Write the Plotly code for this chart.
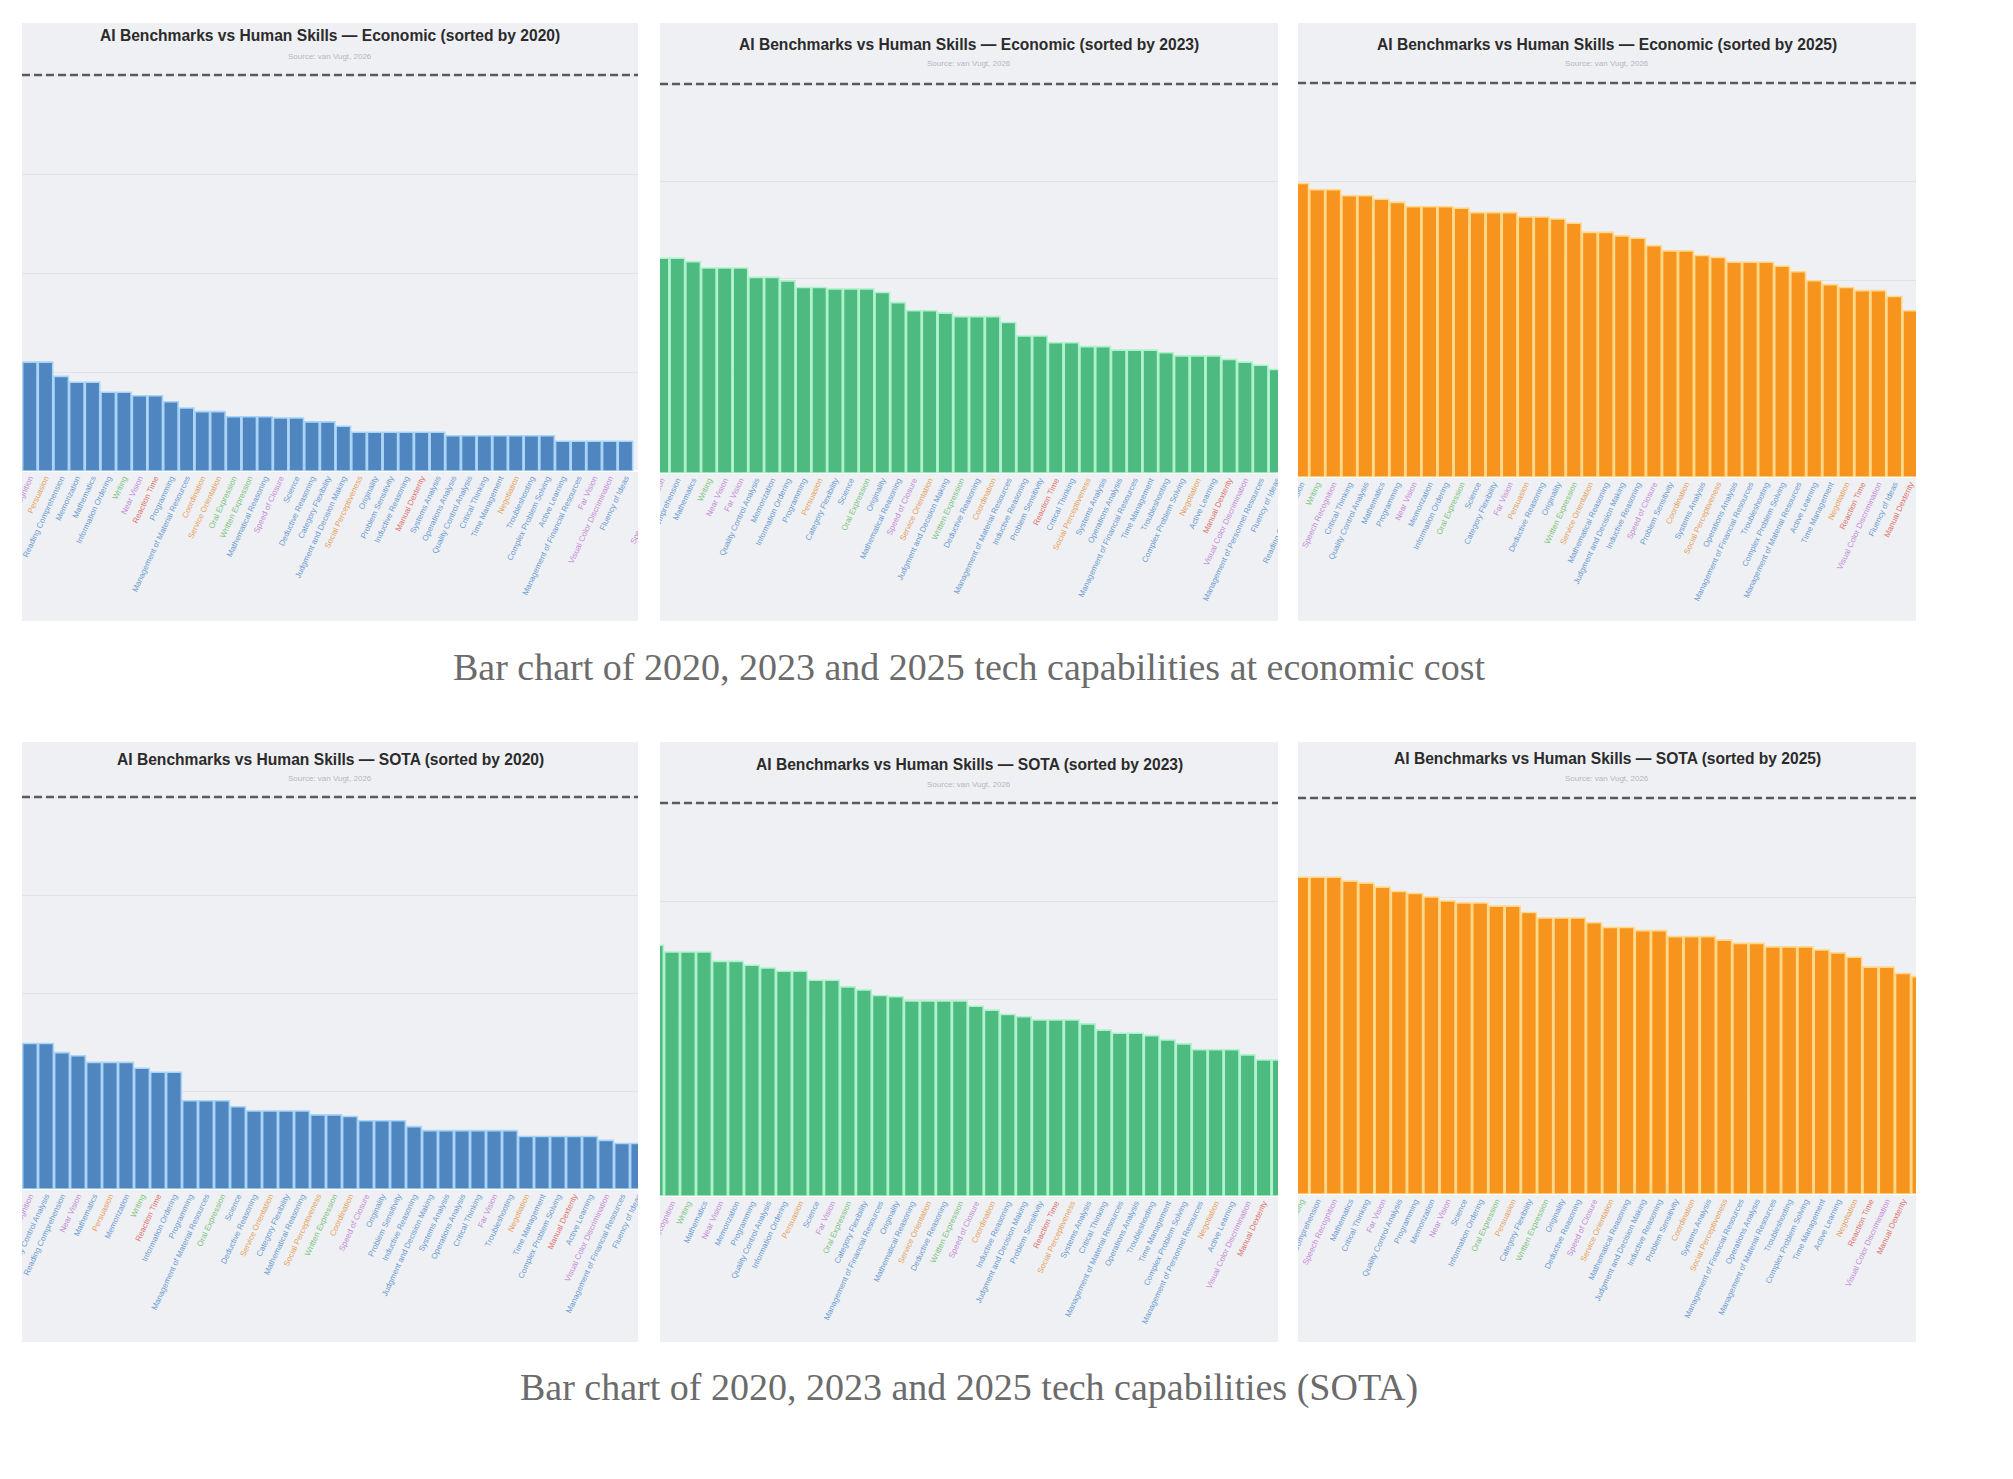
"""
six cropped bar charts (ai benchmark vs human skill, economic + sota rows)
laid out like the blog screenshot, with the two captions underneath.
"""
import plotly.graph_objects as go

W, H = 2013, 1479
PANEL_BG = "#eff0f4"

LABEL_COLORS = {
    "cog": "#6a9bd1",
    "soc": "#e6a15a",
    "per": "#c48bd4",
    "com": "#7cc47c",
    "phy": "#e0736b",
}

SKILL_GROUP = {
    "Critical Thinking": "cog", "Complex Problem Solving": "cog",
    "Judgment and Decision Making": "cog", "Deductive Reasoning": "cog",
    "Inductive Reasoning": "cog", "Information Ordering": "cog",
    "Category Flexibility": "cog", "Mathematical Reasoning": "cog",
    "Memorization": "cog", "Problem Sensitivity": "cog", "Originality": "cog",
    "Fluency of Ideas": "cog", "Reading Comprehension": "cog",
    "Systems Analysis": "cog", "Operations Analysis": "cog",
    "Quality Control Analysis": "cog", "Troubleshooting": "cog",
    "Programming": "cog", "Mathematics": "cog", "Science": "cog",
    "Active Learning": "cog", "Management of Financial Resources": "cog",
    "Management of Material Resources": "cog",
    "Management of Personnel Resources": "cog", "Time Management": "cog",
    "Social Perceptiveness": "soc", "Persuasion": "soc", "Negotiation": "soc",
    "Coordination": "soc", "Service Orientation": "soc",
    "Speed of Closure": "per", "Near Vision": "per", "Far Vision": "per",
    "Visual Color Discrimination": "per", "Speech Recognition": "per",
    "Writing": "com", "Oral Expression": "com", "Written Expression": "com",
    "Manual Dexterity": "phy", "Reaction Time": "phy",
}

# --- economic cost row -------------------------------------------------------
econ_2020_labels = [
    "Speech Recognition", "Persuasion", "Reading Comprehension", "Memorization",
    "Mathematics", "Information Ordering", "Writing", "Near Vision", "Reaction Time",
    "Programming", "Management of Material Resources", "Coordination",
    "Service Orientation", "Oral Expression", "Written Expression",
    "Mathematical Reasoning", "Speed of Closure", "Science", "Deductive Reasoning",
    "Category Flexibility", "Judgment and Decision Making", "Social Perceptiveness",
    "Originality", "Problem Sensitivity", "Inductive Reasoning", "Manual Dexterity",
    "Systems Analysis", "Operations Analysis", "Quality Control Analysis",
    "Critical Thinking", "Time Management", "Negotiation", "Troubleshooting",
    "Complex Problem Solving", "Active Learning", "Management of Financial Resources",
    "Far Vision", "Visual Color Discrimination", "Fluency of Ideas",
]
econ_2020 = [
    27.5, 27.5, 23.9, 22.4, 22.4, 19.9, 19.9, 19.0, 19.0, 17.5, 15.9, 15.0, 15.0,
    13.7, 13.7, 13.7, 13.4, 13.4, 12.4, 12.4, 11.3, 9.8, 9.8, 9.8, 9.8, 9.8, 9.8,
    8.9, 8.9, 8.9, 8.9, 8.9, 8.9, 8.9, 7.5, 7.5, 7.5, 7.5, 7.5,
]

econ_2023_labels = [
    "Speech Recognition", "Reading Comprehension", "Mathematics", "Writing",
    "Near Vision", "Far Vision", "Quality Control Analysis", "Memorization",
    "Information Ordering", "Programming", "Persuasion", "Category Flexibility",
    "Science", "Oral Expression", "Originality", "Mathematical Reasoning",
    "Speed of Closure", "Service Orientation", "Judgment and Decision Making",
    "Written Expression", "Deductive Reasoning", "Coordination",
    "Management of Material Resources", "Inductive Reasoning", "Problem Sensitivity",
    "Reaction Time", "Critical Thinking", "Social Perceptiveness", "Systems Analysis",
    "Operations Analysis", "Management of Financial Resources", "Time Management",
    "Troubleshooting", "Complex Problem Solving", "Negotiation", "Active Learning",
    "Manual Dexterity", "Visual Color Discrimination",
    "Management of Personnel Resources", "Fluency of Ideas",
]
econ_2023 = [
    55.2, 55.2, 54.3, 52.7, 52.7, 52.7, 50.3, 50.3, 49.4, 47.7, 47.7, 47.3, 47.3,
    47.3, 46.4, 43.8, 41.7, 41.7, 41.1, 40.2, 40.2, 40.2, 38.7, 35.2, 35.2, 33.5,
    33.5, 32.5, 32.5, 31.6, 31.6, 31.6, 30.9, 30.1, 30.1, 30.1, 29.2, 28.5, 27.7, 26.6,
]

econ_2025_labels = [
    "Reading Comprehension", "Writing", "Speech Recognition", "Critical Thinking",
    "Quality Control Analysis", "Mathematics", "Programming", "Near Vision",
    "Memorization", "Information Ordering", "Oral Expression", "Science",
    "Category Flexibility", "Far Vision", "Persuasion", "Deductive Reasoning",
    "Originality", "Written Expression", "Service Orientation",
    "Mathematical Reasoning", "Judgment and Decision Making", "Inductive Reasoning",
    "Speed of Closure", "Problem Sensitivity", "Coordination", "Systems Analysis",
    "Social Perceptiveness", "Operations Analysis", "Management of Financial Resources",
    "Troubleshooting", "Complex Problem Solving", "Management of Material Resources",
    "Active Learning", "Time Management", "Negotiation", "Reaction Time",
    "Visual Color Discrimination", "Fluency of Ideas", "Manual Dexterity",
]
econ_2025 = [
    74.5, 72.9, 72.9, 71.4, 71.4, 70.5, 69.7, 68.6, 68.6, 68.6, 68.2, 67.1, 67.1,
    67.1, 66.0, 66.0, 65.5, 64.4, 62.1, 62.1, 61.2, 60.6, 58.7, 57.4, 57.4, 56.2,
    55.7, 54.5, 54.5, 54.5, 53.5, 52.1, 49.8, 48.8, 48.1, 47.3, 47.3, 45.8, 42.2,
]

# --- SOTA row ----------------------------------------------------------------
sota_2020_labels = [
    "Speech Recognition", "Quality Control Analysis", "Reading Comprehension",
    "Near Vision", "Mathematics", "Persuasion", "Memorization", "Writing",
    "Reaction Time", "Information Ordering", "Programming",
    "Management of Material Resources", "Oral Expression", "Science",
    "Deductive Reasoning", "Service Orientation", "Category Flexibility",
    "Mathematical Reasoning", "Social Perceptiveness", "Written Expression",
    "Coordination", "Speed of Closure", "Originality", "Problem Sensitivity",
    "Inductive Reasoning", "Judgment and Decision Making", "Systems Analysis",
    "Operations Analysis", "Critical Thinking", "Far Vision", "Troubleshooting",
    "Negotiation", "Time Management", "Complex Problem Solving", "Manual Dexterity",
    "Active Learning", "Visual Color Discrimination",
    "Management of Financial Resources", "Fluency of Ideas",
]
sota_2020 = [
    37.1, 37.1, 34.8, 34.0, 32.3, 32.3, 32.3, 30.8, 29.8, 29.8, 22.5, 22.5, 22.5,
    21.0, 19.9, 19.9, 19.9, 19.9, 18.9, 18.9, 18.5, 17.4, 17.4, 17.4, 15.9, 14.9,
    14.9, 14.9, 14.9, 14.9, 14.9, 13.4, 13.4, 13.4, 13.4, 13.4, 12.4, 11.6, 11.6,
]

sota_2023_labels = [
    "Reading Comprehension", "Speech Recognition", "Writing", "Mathematics",
    "Near Vision", "Memorization", "Programming", "Quality Control Analysis",
    "Information Ordering", "Persuasion", "Science", "Far Vision", "Oral Expression",
    "Category Flexibility", "Management of Financial Resources", "Originality",
    "Mathematical Reasoning", "Service Orientation", "Deductive Reasoning",
    "Written Expression", "Speed of Closure", "Coordination", "Inductive Reasoning",
    "Judgment and Decision Making", "Problem Sensitivity", "Reaction Time",
    "Social Perceptiveness", "Systems Analysis", "Critical Thinking",
    "Management of Material Resources", "Operations Analysis", "Troubleshooting",
    "Time Management", "Complex Problem Solving", "Management of Personnel Resources",
    "Negotiation", "Active Learning", "Visual Color Discrimination",
    "Manual Dexterity", "Fluency of Ideas",
]
sota_2023 = [
    63.8, 62.1, 62.1, 62.1, 59.7, 59.7, 58.7, 58.0, 57.2, 57.2, 54.9, 54.9, 53.2,
    52.4, 51.0, 50.7, 49.6, 49.6, 49.6, 49.6, 48.3, 47.3, 46.2, 45.6, 44.8, 44.8,
    44.8, 43.8, 42.2, 41.4, 41.4, 40.8, 39.7, 38.7, 37.2, 37.2, 37.2, 35.9, 34.6, 34.6,
]

sota_2025_labels = [
    "Writing", "Reading Comprehension", "Speech Recognition", "Mathematics",
    "Critical Thinking", "Far Vision", "Quality Control Analysis", "Programming",
    "Memorization", "Near Vision", "Science", "Information Ordering",
    "Oral Expression", "Persuasion", "Category Flexibility", "Written Expression",
    "Originality", "Deductive Reasoning", "Speed of Closure", "Service Orientation",
    "Mathematical Reasoning", "Judgment and Decision Making", "Inductive Reasoning",
    "Problem Sensitivity", "Coordination", "Systems Analysis", "Social Perceptiveness",
    "Management of Financial Resources", "Operations Analysis",
    "Management of Material Resources", "Troubleshooting", "Complex Problem Solving",
    "Time Management", "Active Learning", "Negotiation", "Reaction Time",
    "Visual Color Discrimination", "Manual Dexterity", "Fluency of Ideas",
]
sota_2025 = [
    80.0, 80.0, 80.0, 79.0, 78.5, 77.5, 76.4, 75.9, 75.0, 74.0, 73.5, 73.5, 72.7,
    72.7, 71.1, 69.7, 69.7, 69.7, 68.5, 67.3, 67.3, 66.5, 66.5, 65.0, 65.0, 65.0,
    64.1, 63.3, 63.3, 62.4, 62.4, 62.4, 61.6, 60.9, 59.8, 57.3, 57.3, 55.7, 54.9,
]

HUMAN_LEVEL = 100
SUBTITLE = "Source: van Vugt, 2026"
CAPTIONS = [
    "Bar chart of 2020, 2023 and 2025 tech capabilities at economic cost",
    "Bar chart of 2020, 2023 and 2025 tech capabilities (SOTA)",
]

BLUE = ("#4f86bf", "#a9d4f7")
GREEN = ("#4dba7f", "#aef2cc")
ORANGE = ("#f7941e", "#ffd88a")

# screenshot geometry, in page pixels: panel box, baseline (y=0) and dashed line (y=100)
COLS = [(22, 638), (660, 1278), (1298, 1916)]
ROWS = [(23, 621), (742, 1342)]

panels = [
    dict(title="AI Benchmarks vs Human Skills — Economic (sorted by 2020)",
         labels=econ_2020_labels, values=econ_2020, colors=BLUE,
         col=0, row=0, base=471, dash=75, title_y=36, sub_y=57, xr=(-0.5, 38.8)),
    dict(title="AI Benchmarks vs Human Skills — Economic (sorted by 2023)",
         labels=econ_2023_labels, values=econ_2023, colors=GREEN,
         col=1, row=0, base=473, dash=84, title_y=44, sub_y=63, xr=(-0.1, 39.1)),
    dict(title="AI Benchmarks vs Human Skills — Economic (sorted by 2025)",
         labels=econ_2025_labels, values=econ_2025, colors=ORANGE,
         col=2, row=0, base=477, dash=83, title_y=44, sub_y=63, xr=(-0.2, 38.35)),
    dict(title="AI Benchmarks vs Human Skills — SOTA (sorted by 2020)",
         labels=sota_2020_labels, values=sota_2020, colors=BLUE,
         col=0, row=1, base=1189, dash=797, title_y=759, sub_y=779, xr=(-0.5, 38.0)),
    dict(title="AI Benchmarks vs Human Skills — SOTA (sorted by 2023)",
         labels=sota_2023_labels, values=sota_2023, colors=GREEN,
         col=1, row=1, base=1196, dash=803, title_y=764, sub_y=784, xr=(0.25, 38.9)),
    dict(title="AI Benchmarks vs Human Skills — SOTA (sorted by 2025)",
         labels=sota_2025_labels, values=sota_2025, colors=ORANGE,
         col=2, row=1, base=1194, dash=798, title_y=758, sub_y=778, xr=(-0.2, 37.8)),
]


def px_x(v):
    return v / W


def px_y(v):
    return 1 - v / H


fig = go.Figure()
shapes, annotations = [], []
YMAX = 103

for k, p in enumerate(panels, start=1):
    sfx = "" if k == 1 else str(k)
    x0, x1 = COLS[p["col"]]
    y0, y1 = ROWS[p["row"]]
    ppu = (p["base"] - p["dash"]) / HUMAN_LEVEL
    top = p["base"] - YMAX * ppu

    shapes.append(dict(type="rect", xref="paper", yref="paper", layer="below",
                       x0=px_x(x0), x1=px_x(x1), y0=px_y(y1), y1=px_y(y0),
                       fillcolor=PANEL_BG, line=dict(width=0)))

    fill, edge = p["colors"]
    fig.add_trace(go.Bar(
        x=p["labels"], y=p["values"], xaxis="x" + sfx, yaxis="y" + sfx,
        marker=dict(color=fill, line=dict(color=edge, width=1.6)),
        showlegend=False, hoverinfo="x+y",
    ))

    ticktext = [f'<span style="color:{LABEL_COLORS[SKILL_GROUP[s]]}">{s}</span>'
                for s in p["labels"]]
    fig.update_layout(**{
        "xaxis" + sfx: dict(
            domain=[px_x(x0), px_x(x1)], anchor="y" + sfx, range=list(p["xr"]),
            tickmode="array", tickvals=p["labels"], ticktext=ticktext,
            tickangle=-65, tickfont=dict(family="Liberation Sans", size=8),
            showgrid=False, zeroline=False, showline=False, ticks="", automargin=False,
        ),
        "yaxis" + sfx: dict(
            domain=[px_y(p["base"]), px_y(top)], anchor="x" + sfx, range=[0, YMAX],
            tickvals=[0, 25, 50, 75, 100], showticklabels=False,
            gridcolor="#e1e3e9", gridwidth=1, zeroline=True, zerolinecolor="#ffffff",
            zerolinewidth=2, automargin=False,
        ),
    })

    shapes.append(dict(type="line", xref=f"x{sfx} domain", yref="y" + sfx,
                       x0=0, x1=1, y0=HUMAN_LEVEL, y1=HUMAN_LEVEL,
                       line=dict(color="#595959", width=2.5, dash="8px,4px")))

    cx = px_x((x0 + x1) / 2)
    annotations.append(dict(xref="paper", yref="paper", x=cx, y=px_y(p["title_y"]),
                            text=f"<b>{p['title']}</b>", showarrow=False,
                            xanchor="center", yanchor="middle",
                            font=dict(family="Liberation Sans", size=15.6, color="#2b2b2b")))
    annotations.append(dict(xref="paper", yref="paper", x=cx, y=px_y(p["sub_y"]),
                            text=SUBTITLE, showarrow=False,
                            xanchor="center", yanchor="middle",
                            font=dict(family="Liberation Sans", size=8, color="#b5b7bc")))

# the screenshots were cropped: white strips between panels hide tick labels that spill over
gaps = [(0, COLS[0][0]), (COLS[0][1], COLS[1][0]), (COLS[1][1], COLS[2][0]), (COLS[2][1], W)]
for g0, g1 in gaps:
    shapes.append(dict(type="rect", xref="paper", yref="paper", layer="above",
                       x0=px_x(g0), x1=px_x(g1), y0=0, y1=1,
                       fillcolor="#ffffff", line=dict(width=0)))

for text, y in zip(CAPTIONS, (667, 1387)):
    annotations.append(dict(xref="paper", yref="paper", x=px_x(969), y=px_y(y),
                            text=text, showarrow=False, xanchor="center", yanchor="middle",
                            font=dict(family="Liberation Serif", size=38, color="#6b6b6b")))

fig.update_layout(
    width=W, height=H, margin=dict(l=0, r=0, t=0, b=0),
    paper_bgcolor="#ffffff", plot_bgcolor=PANEL_BG,
    bargap=0.08, shapes=shapes, annotations=annotations,
    font=dict(family="Liberation Sans"),
)

# page body margin would shift the whole figure by 8px
fig.write_html("out.html", config={"displayModeBar": False},
               post_script="document.body.style.margin='0';")
